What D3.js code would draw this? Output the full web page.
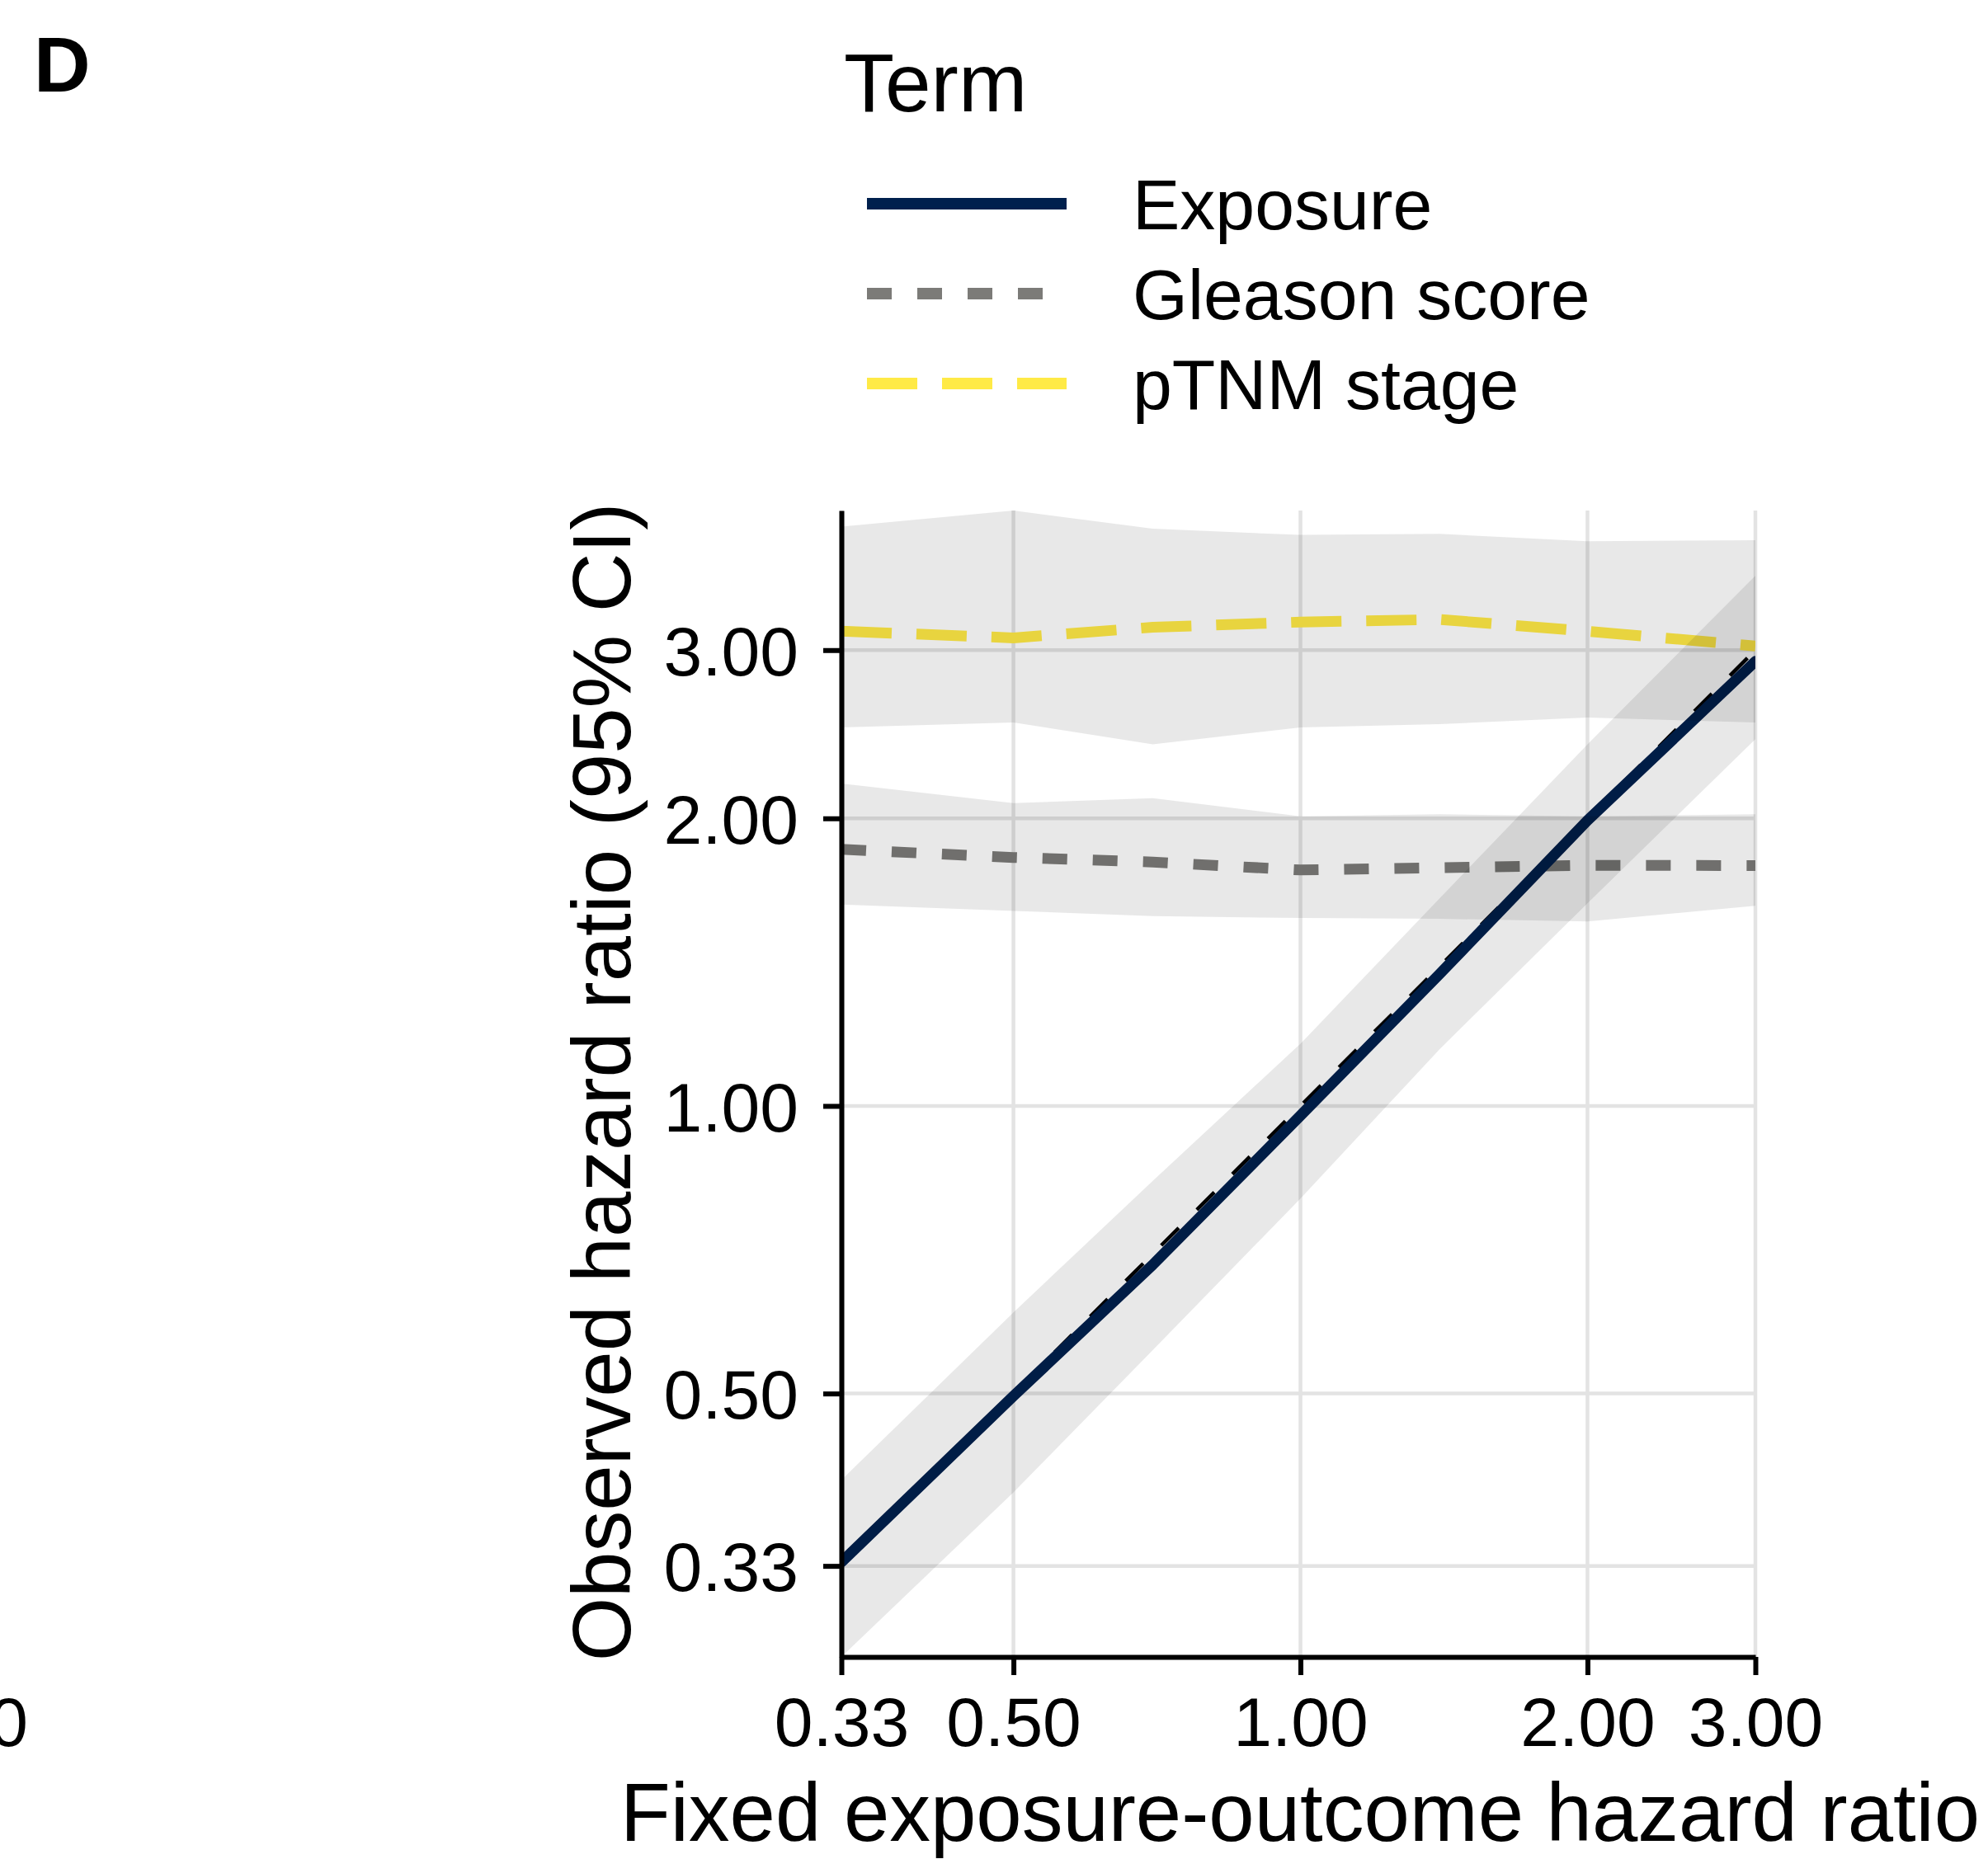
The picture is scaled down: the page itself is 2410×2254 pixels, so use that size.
<!DOCTYPE html>
<html>
<head>
<meta charset="utf-8">
<script src="https://cdn.jsdelivr.net/npm/d3@7"></script>
<style>
  html, body { margin: 0; padding: 0; background: #fff; }
  svg { display: block; font-family: "Liberation Sans", Arial, Helvetica, sans-serif; }
</style>
</head>
<body>
<svg id="chart" width="2410" height="2254"></svg>
<script>
// Fixed exposure-outcome hazard ratios used in the simulation
const hrFixed = [0.33, 0.5, 0.7, 1.0, 1.4, 2.0, 3.0];

// Observed hazard ratios (estimate, lower and upper 95% CI) per model term
const exposureEst = [0.333, 0.497, 0.682, 0.977, 1.375, 1.99, 2.92];
const exposureLo  = [0.265, 0.394, 0.555, 0.80, 1.147, 1.63, 2.42];
const exposureHi  = [0.406, 0.608, 0.835, 1.162, 1.65, 2.39, 3.59];

const gleasonEst = [1.856, 1.82, 1.80, 1.766, 1.776, 1.786, 1.785];
const gleasonLo  = [1.625, 1.60, 1.58, 1.573, 1.57, 1.56, 1.62];
const gleasonHi  = [2.175, 2.075, 2.10, 2.01, 2.02, 2.01, 2.02];

const ptnmEst = [3.14, 3.09, 3.17, 3.21, 3.23, 3.14, 3.03];
const ptnmLo  = [2.49, 2.52, 2.39, 2.49, 2.51, 2.55, 2.52];
const ptnmHi  = [4.04, 4.20, 4.02, 3.96, 3.97, 3.90, 3.91];

const termNames = ["Exposure", "Gleason score", "pTNM stage"];
const xTicks = [0.33, 0.5, 1, 2, 3];
const yTicks = [0.33, 0.5, 1, 2, 3];

// Layout
const panel = { left: 1020, right: 2128, top: 619, bottom: 2009 };
const colors = ["#00204D", "#7C7B78", "#FFEA46"];
const dashes = [null, "30,31", "61,30"];
const fmt = d3.format(".2f");

const svg = d3.select("#chart");
svg.append("rect").attr("width", 2410).attr("height", 2254).attr("fill", "#fff");

const x = d3.scaleLog().domain([0.33, 3]).range([panel.left, panel.right]);
const y = d3.scaleLog().domain([0.265, 4.2]).range([panel.bottom, panel.top]);

svg.append("defs").append("clipPath").attr("id", "panel-clip")
  .append("rect")
  .attr("x", panel.left).attr("y", panel.top)
  .attr("width", panel.right - panel.left).attr("height", panel.bottom - panel.top);

// Grid
const grid = svg.append("g").attr("stroke", "#e3e3e3").attr("stroke-width", 4.5);
grid.selectAll("line.v").data(xTicks).join("line")
  .attr("x1", d => x(d)).attr("x2", d => x(d))
  .attr("y1", panel.top).attr("y2", panel.bottom);
grid.selectAll("line.h").data(yTicks).join("line")
  .attr("x1", panel.left).attr("x2", panel.right)
  .attr("y1", d => y(d)).attr("y2", d => y(d));

const terms = [
  { name: termNames[0], est: exposureEst, lo: exposureLo, hi: exposureHi },
  { name: termNames[1], est: gleasonEst, lo: gleasonLo, hi: gleasonHi },
  { name: termNames[2], est: ptnmEst, lo: ptnmLo, hi: ptnmHi }
];

const marks = svg.append("g").attr("clip-path", "url(#panel-clip)");

// Line of identity (observed = fixed)
const identity = d3.line().x(d => x(d)).y(d => y(d));
marks.append("path")
  .attr("d", identity(hrFixed))
  .attr("fill", "none")
  .attr("stroke", "#000")
  .attr("stroke-width", 4.5)
  .attr("stroke-dasharray", "30,31");

// Estimate lines
const estLine = (vals) => d3.line().x((d, i) => x(hrFixed[i])).y(d => y(d))(vals);
terms.slice().reverse().forEach((t, k) => {
  const i = terms.length - 1 - k;
  marks.append("path")
    .attr("d", estLine(t.est))
    .attr("fill", "none")
    .attr("stroke", colors[i])
    .attr("stroke-width", 13)
    .attr("stroke-linecap", i === 0 ? "round" : "butt")
    .attr("stroke-linejoin", "round")
    .attr("stroke-dasharray", dashes[i]);
});

// Confidence ribbons
const ribbon = d3.area()
  .x(d => x(d.x)).y0(d => y(d.lo)).y1(d => y(d.hi));
terms.forEach(t => {
  const pts = hrFixed.map((h, i) => ({ x: h, lo: t.lo[i], hi: t.hi[i] }));
  marks.append("path")
    .attr("d", ribbon(pts))
    .attr("fill", "#000")
    .attr("fill-opacity", 0.09);
});

// Axes
const yAxis = d3.axisLeft(y).tickValues(yTicks).tickFormat(fmt)
  .tickSize(22).tickSizeOuter(0).tickPadding(30);
const gy = svg.append("g").attr("transform", `translate(${panel.left},0)`).call(yAxis);

const xAxis = d3.axisBottom(x).tickValues(xTicks).tickFormat(fmt)
  .tickSize(22).tickSizeOuter(0).tickPadding(26);
const gx = svg.append("g").attr("transform", `translate(0,${panel.bottom})`).call(xAxis);

[gx, gy].forEach(g => {
  g.select(".domain").attr("stroke", "#000").attr("stroke-width", 6);
  g.selectAll(".tick line").attr("stroke", "#000").attr("stroke-width", 6);
  g.selectAll(".tick text")
    .attr("fill", "#000")
    .attr("font-size", 84)
    .attr("font-family", "Liberation Sans, Arial, sans-serif");
});
gy.selectAll(".tick text").attr("dy", "0.36em");

// Axis titles
svg.append("text")
  .attr("x", (panel.left + panel.right) / 2 + 2)
  .attr("y", 2232)
  .attr("text-anchor", "middle")
  .attr("font-size", 99.5)
  .attr("fill", "#000")
  .text("Fixed exposure-outcome hazard ratio");

svg.append("text")
  .attr("transform", `translate(764,${(panel.top + panel.bottom) / 2 - 2}) rotate(-90)`)
  .attr("text-anchor", "middle")
  .attr("font-size", 99.5)
  .attr("fill", "#000")
  .text("Observed hazard ratio (95% CI)");

// Panel tag
svg.append("text")
  .attr("x", 41).attr("y", 111)
  .attr("font-size", 95).attr("font-weight", "bold")
  .attr("fill", "#000")
  .text("D");

// Tick label of the neighbouring panel, cut by the page edge
svg.append("text")
  .attr("x", 34).attr("y", 2117)
  .attr("text-anchor", "end")
  .attr("font-size", 84)
  .attr("fill", "#000")
  .text("3.00");

// Legend
const legend = svg.append("g");
legend.append("text")
  .attr("x", 1023).attr("y", 135)
  .attr("font-size", 100)
  .attr("fill", "#000")
  .text("Term");

const keyY = [247, 356, 465];
termNames.forEach((name, i) => {
  legend.append("line")
    .attr("x1", 1051).attr("x2", 1293)
    .attr("y1", keyY[i]).attr("y2", keyY[i])
    .attr("stroke", colors[i])
    .attr("stroke-width", 14)
    .attr("stroke-dasharray", dashes[i]);
  legend.append("text")
    .attr("x", 1373).attr("y", keyY[i] + 31)
    .attr("font-size", 86)
    .attr("fill", "#000")
    .text(name);
});
</script>
</body>
</html>
